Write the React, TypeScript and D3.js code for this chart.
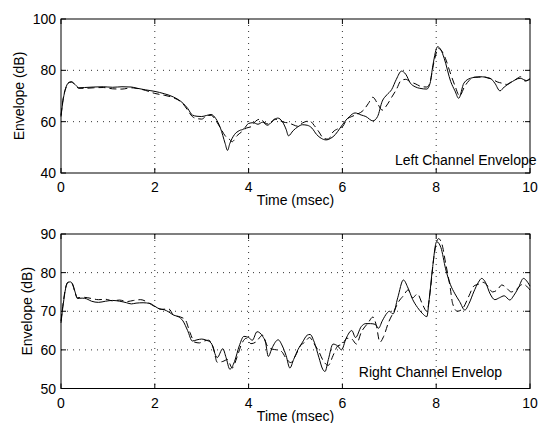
import * as d3 from "d3";

// Left channel envelope (top panel)
const leftSolidT = [0, 0.05, 0.1, 0.15, 0.22, 0.3, 0.38, 0.5, 0.7, 0.9, 1.1, 1.3, 1.5, 1.6, 1.8, 2.0, 2.2, 2.4, 2.6, 2.7, 2.8, 2.9, 3.0, 3.1, 3.2, 3.3, 3.4, 3.5, 3.55, 3.6, 3.7, 3.8, 3.9, 4.0, 4.1, 4.2, 4.3, 4.4, 4.5, 4.62, 4.72, 4.8, 4.85, 4.95, 5.05, 5.15, 5.25, 5.35, 5.45, 5.55, 5.65, 5.75, 5.85, 5.95, 6.05, 6.15, 6.27, 6.4, 6.5, 6.65, 6.75, 6.85, 6.95, 7.05, 7.15, 7.26, 7.35, 7.45, 7.55, 7.65, 7.8, 7.87, 7.93, 8.03, 8.1, 8.17, 8.31, 8.4, 8.48, 8.59, 8.73, 8.94, 9.15, 9.25, 9.36, 9.45, 9.57, 9.79, 9.93, 10];
const leftSolid = [62, 69, 73, 75, 75.6, 74.5, 73.2, 73.3, 73.5, 73.6, 73.4, 73.6, 73.5, 73.1, 72.4, 71.8, 70.9, 69.6, 67.2, 65.2, 62.6, 62.1, 62.0, 62.4, 62.8, 61.2, 57.5, 51.5, 48.8, 51.5, 55.0, 56.5, 57.2, 59.3, 59.6, 59.0, 59.8, 58.6, 60.0, 61.4, 60.0, 57.0, 54.5, 56.5, 58.0, 58.8, 58.6, 57.5, 55.0, 53.5, 52.9, 53.5, 55.0, 57.5, 60.0, 62.0, 63.4, 62.6, 62.0, 60.3, 62.0, 68.0, 70.5, 72.5, 76.5, 79.7, 78.5, 75.0, 73.6, 73.0, 72.7, 75.0, 82.0, 89.2, 88.0, 84.7, 75.6, 72.0, 69.1, 75.0, 76.9, 77.5, 76.9, 75.0, 72.0, 73.5, 75.0, 76.9, 76.0, 76.5];

const leftDashedT = [0, 0.05, 0.1, 0.15, 0.22, 0.3, 0.38, 0.5, 0.7, 0.9, 1.1, 1.3, 1.5, 1.6, 1.8, 2.0, 2.2, 2.4, 2.6, 2.7, 2.8, 2.9, 3.0, 3.1, 3.2, 3.3, 3.4, 3.5, 3.6, 3.65, 3.75, 3.85, 3.95, 4.05, 4.15, 4.25, 4.35, 4.45, 4.55, 4.65, 4.75, 4.85, 4.95, 5.05, 5.15, 5.3, 5.4, 5.5, 5.6, 5.7, 5.8, 5.9, 6.0, 6.1, 6.2, 6.3, 6.45, 6.55, 6.65, 6.75, 6.85, 6.95, 7.05, 7.15, 7.25, 7.35, 7.45, 7.55, 7.7, 7.8, 7.87, 7.95, 8.05, 8.12, 8.2, 8.3, 8.4, 8.5, 8.6, 8.7, 8.8, 8.9, 9.0, 9.1, 9.2, 9.3, 9.4, 9.5, 9.6, 9.7, 9.8, 9.9, 10];
const leftDashed = [62.5, 69.5, 73, 75, 75.4, 74.3, 73.0, 73.0, 73.2, 73.3, 72.8, 72.7, 73.2, 73.0, 72.2, 71.0, 70.3, 69.3, 67.0, 64.5, 62.0, 61.2, 61.0, 62.2, 62.5, 60.5, 57.5, 54.5, 53.0, 52.2, 54.5, 56.0, 57.5, 58.0, 60.2, 61.0, 59.5, 59.0, 61.0, 60.5, 59.8, 59.5, 58.8, 58.2, 59.5, 60.3, 58.5, 56.0, 53.5, 53.2, 56.0, 57.2, 58.0, 61.0, 62.0, 62.8, 64.5, 67.0, 69.5, 67.0, 64.5, 66.5, 69.5, 72.5, 76.0, 76.5, 75.5, 74.8, 73.6, 73.5, 75.5, 83.0, 88.5, 87.5, 84.5, 79.0, 74.0, 70.0, 73.5, 76.0, 77.3, 77.3, 77.5, 77.0, 76.5, 75.5, 75.0, 74.5, 75.5, 76.5, 77.5, 75.8, 77.0];

// Right channel envelope (bottom panel)
const rightSolidT = [0, 0.05, 0.1, 0.15, 0.2, 0.25, 0.3, 0.35, 0.45, 0.55, 0.65, 0.8, 0.95, 1.1, 1.25, 1.4, 1.5, 1.6, 1.75, 1.9, 2.0, 2.1, 2.2, 2.3, 2.4, 2.5, 2.6, 2.7, 2.8, 2.9, 3.0, 3.1, 3.2, 3.33, 3.45, 3.52, 3.6, 3.7, 3.8, 3.9, 4.0, 4.08, 4.18, 4.3, 4.36, 4.42, 4.5, 4.63, 4.72, 4.8, 4.88, 4.96, 5.05, 5.15, 5.25, 5.31, 5.4, 5.5, 5.58, 5.63, 5.7, 5.8, 5.9, 5.98, 6.08, 6.2, 6.28, 6.4, 6.5, 6.6, 6.7, 6.77, 6.85, 6.95, 7.0, 7.08, 7.18, 7.3, 7.4, 7.5, 7.6, 7.7, 7.8, 7.85, 7.92, 8.01, 8.1, 8.2, 8.3, 8.4, 8.5, 8.61, 8.7, 8.8, 8.9, 8.97, 9.05, 9.15, 9.25, 9.35, 9.45, 9.57, 9.65, 9.75, 9.86, 9.95, 10];
const rightSolid = [67, 72, 76, 77.5, 77.6, 77, 75, 73.3, 73.4, 73.2, 72.6, 72.3, 72.6, 72.8, 72.6, 72.2, 71.9, 72.1, 72.2, 72.0, 71.3, 70.6, 70.4, 69.8, 69.0, 68.6, 67.5, 65.0, 62.3, 62.6, 62.8, 62.5, 61.8, 58.0, 60.3, 58.0, 55.0, 57.0, 61.0, 63.5, 63.2, 62.5, 64.7, 63.5, 62.0, 58.3, 60.5, 62.6, 61.0, 58.5, 55.3, 57.5, 60.0, 62.0, 63.8, 64.0, 62.0, 58.0, 55.0, 54.4, 57.5, 61.5, 61.0, 60.0, 63.0, 65.0, 63.2, 66.0, 66.8, 66.8, 66.6, 65.6, 67.5, 69.5, 70.0, 69.3, 73.5, 78.1, 76.0, 73.0, 71.0, 69.5, 68.6, 73.0, 81.0, 88.0, 86.5, 81.0, 77.0, 74.5, 72.5, 70.3, 72.0, 75.0, 77.5, 78.5, 77.5, 74.5, 73.0, 73.5, 74.0, 72.9, 74.0, 76.0, 78.5, 77.5, 76.5];

const rightDashedT = [0, 0.05, 0.1, 0.15, 0.2, 0.25, 0.3, 0.35, 0.5, 0.65, 0.8, 0.95, 1.1, 1.25, 1.4, 1.55, 1.7, 1.85, 2.0, 2.15, 2.3, 2.4, 2.55, 2.65, 2.75, 2.85, 2.95, 3.05, 3.15, 3.25, 3.33, 3.45, 3.55, 3.65, 3.75, 3.85, 3.95, 4.05, 4.15, 4.3, 4.4, 4.5, 4.6, 4.7, 4.8, 4.9, 5.0, 5.1, 5.2, 5.3, 5.4, 5.5, 5.6, 5.7, 5.8, 5.9, 6.0, 6.1, 6.2, 6.3, 6.4, 6.55, 6.65, 6.72, 6.8, 6.88, 6.98, 7.1, 7.2, 7.3, 7.4, 7.5, 7.6, 7.7, 7.8, 7.88, 7.95, 8.05, 8.12, 8.2, 8.3, 8.35, 8.45, 8.55, 8.7, 8.8, 8.9, 9.0, 9.1, 9.2, 9.3, 9.4, 9.5, 9.6, 9.7, 9.85, 10];
const rightDashed = [67.5, 72.5, 76.2, 77.5, 77.5, 76.8, 74.8, 73.5, 73.6, 73.3, 73.0, 73.1, 72.7, 72.9, 72.5, 72.8, 73.0, 72.3, 71.2, 70.5, 70.6, 69.0, 68.5, 67.8, 64.5, 62.0, 61.8, 62.3, 62.5, 60.5, 56.8, 57.0, 57.5, 55.3, 58.0, 61.5, 63.0, 61.6, 62.0, 63.8, 61.0, 60.2, 60.0, 59.6, 57.8, 56.7, 58.5, 61.0, 62.0, 63.2, 61.5, 59.5, 57.0, 56.0, 58.5, 61.0, 61.5, 63.0, 62.8, 61.5, 64.5, 67.0, 68.5, 66.5, 62.0, 63.5, 67.0, 70.0, 72.5, 74.0, 75.5, 73.5, 74.5, 72.0, 70.0, 76.0, 84.0, 88.8, 87.5, 82.5, 76.0, 72.0, 70.0, 70.5, 74.0, 76.5, 77.0, 77.5, 76.5, 75.0, 75.5, 76.8, 76.0, 75.0, 75.6, 77.0, 75.5];

const xTicks = [0, 2, 4, 6, 8, 10];
const topYTicks = [40, 60, 80, 100];
const bottomYTicks = [50, 60, 70, 80, 90];

const FONT = "'Liberation Sans', Arial, Helvetica, sans-serif";
const X0 = 61;
const X1 = 530;

type PanelProps = {
  top: number;
  bottom: number;
  yDomain: [number, number];
  yTicks: number[];
  solidT: number[];
  solid: number[];
  dashedT: number[];
  dashed: number[];
  label: string;
  labelAt: [number, number];
  yLabelX: number;
};

function Panel(p: PanelProps) {
  const x = d3.scaleLinear().domain([0, 10]).range([X0, X1]);
  const y = d3.scaleLinear().domain(p.yDomain).range([p.bottom, p.top]);
  const line = d3
    .line<[number, number]>()
    .x((d) => x(d[0]))
    .y((d) => y(d[1]))
    .curve(d3.curveMonotoneX);
  const solidPts = p.solidT.map((t, i) => [t, p.solid[i]] as [number, number]);
  const dashedPts = p.dashedT.map((t, i) => [t, p.dashed[i]] as [number, number]);
  const tick = 5;
  return (
    <g>
      {/* grid */}
      {xTicks.slice(1, -1).map((t) => (
        <line key={"gx" + t} x1={x(t)} x2={x(t)} y1={p.top} y2={p.bottom} stroke="#333" strokeWidth={1} strokeDasharray="1,5" />
      ))}
      {p.yTicks.slice(1, -1).map((v) => (
        <line key={"gy" + v} x1={X0} x2={X1} y1={y(v)} y2={y(v)} stroke="#333" strokeWidth={1} strokeDasharray="1,5" />
      ))}
      <path d={line(dashedPts) || ""} fill="none" stroke="#000" strokeWidth={1} strokeDasharray="7,4" />
      <path d={line(solidPts) || ""} fill="none" stroke="#000" strokeWidth={1} />
      <text x={x(p.labelAt[0])} y={y(p.labelAt[1])} fontFamily={FONT} fontSize={14}>
        {p.label}
      </text>
      {/* frame and ticks */}
      <rect x={X0} y={p.top} width={X1 - X0} height={p.bottom - p.top} fill="none" stroke="#000" strokeWidth={1} />
      {xTicks.map((t) => (
        <g key={"tx" + t}>
          <line x1={x(t)} x2={x(t)} y1={p.bottom} y2={p.bottom - tick} stroke="#000" />
          <line x1={x(t)} x2={x(t)} y1={p.top} y2={p.top + tick} stroke="#000" />
          <text x={x(t)} y={p.bottom + 19} textAnchor="middle" fontFamily={FONT} fontSize={14}>
            {t}
          </text>
        </g>
      ))}
      {p.yTicks.map((v) => (
        <g key={"ty" + v}>
          <line x1={X0} x2={X0 + tick} y1={y(v)} y2={y(v)} stroke="#000" />
          <line x1={X1} x2={X1 - tick} y1={y(v)} y2={y(v)} stroke="#000" />
          <text x={X0 - 5} y={y(v) + 5} textAnchor="end" fontFamily={FONT} fontSize={14}>
            {v}
          </text>
        </g>
      ))}
      <text
        transform={`translate(${p.yLabelX},${(p.top + p.bottom) / 2}) rotate(-90)`}
        textAnchor="middle"
        fontFamily={FONT}
        fontSize={14}
      >
        Envelope (dB)
      </text>
      <text x={(X0 + X1) / 2} y={p.bottom + 32} textAnchor="middle" fontFamily={FONT} fontSize={14}>
        Time (msec)
      </text>
    </g>
  );
}

export default function App() {
  return (
    <svg width={541} height={423} style={{ position: "absolute", left: 0, top: 0, background: "#fff" }}>
      <rect width={541} height={423} fill="#fff" />
      <Panel
        top={19}
        bottom={173}
        yDomain={[40, 100]}
        yTicks={topYTicks}
        solidT={leftSolidT}
        solid={leftSolid}
        dashedT={leftDashedT}
        dashed={leftDashed}
        label="Left Channel Envelope"
        labelAt={[7.12, 43.1]}
        yLabelX={23.5}
      />
      <Panel
        top={234}
        bottom={388.5}
        yDomain={[50, 90]}
        yTicks={bottomYTicks}
        solidT={rightSolidT}
        solid={rightSolid}
        dashedT={rightDashedT}
        dashed={rightDashed}
        label="Right Channel Envelop"
        labelAt={[6.35, 52.9]}
        yLabelX={32}
      />
    </svg>
  );
}
